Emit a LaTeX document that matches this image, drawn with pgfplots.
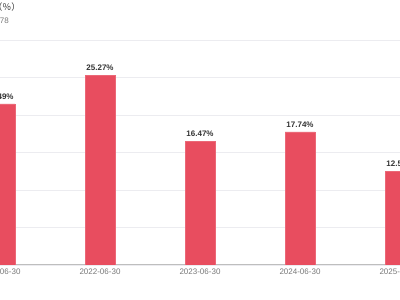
\documentclass[border=0pt]{standalone}
\usepackage{pgfplots}
\pgfplotsset{compat=1.18}
\usepackage{fontspec}
\setmainfont{Liberation Sans}
\newfontfamily\cjk{Noto Sans CJK SC}
\definecolor{barred}{RGB}{232,77,95}
\definecolor{txtdark}{RGB}{51,51,51}
\definecolor{txtgray}{RGB}{120,120,120}
\definecolor{gridc}{RGB}{236,236,240}
\definecolor{axisc}{RGB}{190,190,190}
\begin{document}
\begin{tikzpicture}[x=1pt,y=1pt]
\path[use as bounding box, clip] (0,0) rectangle (400,300);
\begin{axis}[
  anchor=south west, at={(-50pt,35pt)},
  scale only axis, width=500pt, height=225pt,
  xmin=-0.5, xmax=4.5, ymin=0, ymax=30,
  ybar, bar width=30pt,
  xtick={0,1,2,3,4},
  xticklabels={2021-06-30,2022-06-30,2023-06-30,2024-06-30,2025-06-30},
  ytick={0,5,10,15,20,25,30}, yticklabels={},
  ymajorgrids, grid style={draw=gridc, line width=0.8pt},
  axis x line*=bottom, axis y line*=left,
  y axis line style={draw=none},
  x axis line style={draw=axisc, line width=1pt, -},
  major tick length=0pt,
  xticklabel style={font=\fontsize{8}{9}\selectfont, text=txtgray},
  /pgf/number format/assume math mode=true,
  nodes near coords={\pgfmathprintnumber[fixed,fixed zerofill,precision=2]{\pgfplotspointmeta}\%},
  nodes near coords style={font=\bfseries\fontsize{8}{9}\selectfont, text=txtdark, yshift=1pt},
]
\addplot[fill=barred, draw=barred!85!white] coordinates {(0,21.49) (1,25.27) (2,16.47) (3,17.74) (4,12.52)};
\end{axis}
\node[anchor=base east, font=\cjk\fontsize{9}{10}\selectfont, text=txtdark, inner sep=0] at (20.5,289) {净资产收益率（％）};
\node[anchor=base east, font=\fontsize{8}{9}\selectfont, text=txtgray, inner sep=0] at (9,276) {600078};
\end{tikzpicture}
\end{document}
